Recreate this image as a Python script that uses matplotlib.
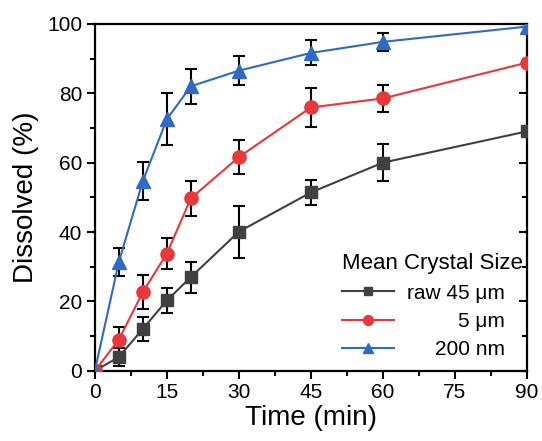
import numpy as np
import matplotlib
matplotlib.use("Agg")
import matplotlib.pyplot as plt
from matplotlib.ticker import MultipleLocator

plt.rcParams['font.family'] = ['Liberation Sans', 'DejaVu Sans']

# dissolution profiles (time in min, dissolved %)
time_min = [0, 5, 10, 15, 20, 30, 45, 60, 90]

raw_45um = [0, 4.0, 12.1, 20.3, 27.0, 40.1, 51.4, 60.0, 69.0]
raw_45um_err = [0, 2.5, 3.5, 3.5, 4.5, 7.5, 3.7, 5.3, 0]

size_5um = [0, 9.0, 22.7, 33.8, 49.7, 61.6, 75.9, 78.5, 88.8]
size_5um_err = [0, 3.5, 5.0, 4.5, 5.0, 4.8, 5.7, 3.9, 0]

size_200nm = [0, 31.4, 54.7, 72.5, 82.0, 86.5, 91.6, 94.8, 99.2]
size_200nm_err = [0, 4.0, 5.5, 7.5, 5.0, 4.2, 3.6, 2.6, 0]

labels = ["raw 45 \u03bcm", "5 \u03bcm", "200 nm"]
colors = ["#404040", "#e8383b", "#2e6bc4"]
markers = ["s", "o", "^"]
msizes = [8.5, 9.5, 10]

fig = plt.figure(figsize=(5.42, 4.41), dpi=100)
ax = fig.add_axes([0.175, 0.159, 0.797, 0.787])

series = [(raw_45um, raw_45um_err), (size_5um, size_5um_err), (size_200nm, size_200nm_err)]
handles = []
for (y, e), lab, c, m, ms in zip(series, labels, colors, markers, msizes):
    ax.errorbar(time_min, y, yerr=e, fmt='none', ecolor='black',
                elinewidth=1.5, capsize=4, capthick=1.5, zorder=2)
    h, = ax.plot(time_min, y, color=c, marker=m, markersize=ms, lw=1.5,
                 markeredgecolor=c, label=lab, zorder=3)
    handles.append(h)

ax.set_xlim(0, 90)
ax.set_ylim(0, 100)
ax.xaxis.set_major_locator(MultipleLocator(15))
ax.xaxis.set_minor_locator(MultipleLocator(7.5))
ax.yaxis.set_major_locator(MultipleLocator(20))
ax.yaxis.set_minor_locator(MultipleLocator(10))

for s in ax.spines.values():
    s.set_linewidth(1.6)
ax.tick_params(which='major', direction='out', length=6, width=1.5, labelsize=15, pad=3)
ax.tick_params(which='minor', direction='out', length=3.5, width=1.5)
ax.tick_params(which='both', right=True, top=False)

# right axis ticks point inward
for t in ax.yaxis.get_major_ticks() + ax.yaxis.get_minor_ticks():
    t.tick2line.set_marker(0)

ax.set_xlabel("Time (min)", fontsize=20, labelpad=2)
ax.set_ylabel("Dissolved (%)", fontsize=20, labelpad=6)

leg = ax.legend(handles=handles, loc='lower right', frameon=False,
                title="Mean Crystal Size", title_fontsize=16, fontsize=15,
                alignment='left', handlelength=2.5, labelspacing=0.45,
                markerscale=0.75, borderpad=0.15, borderaxespad=0.4,
                handletextpad=0.6, bbox_to_anchor=(1.018, 0.0))

# right-align the legend labels
fig.canvas.draw()
renderer = fig.canvas.get_renderer()
widths = [t.get_window_extent(renderer).width for t in leg.get_texts()]
shift = max(widths)
for t, w in zip(leg.get_texts(), widths):
    t.set_position((shift - w, 0))

fig.savefig("out.png", dpi=100)
